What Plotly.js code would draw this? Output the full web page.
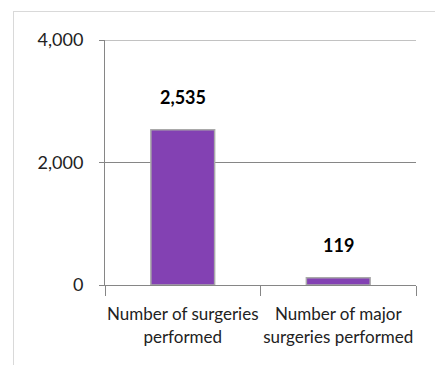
<!DOCTYPE html>
<html><head><meta charset="utf-8">
<script src="https://cdn.plot.ly/plotly-3.0.1.min.js"></script>
<style>
html,body{margin:0;padding:0;background:#fff;overflow:hidden;}
#frame{position:absolute;left:13px;top:11px;width:500px;height:500px;border:1px solid #d9d9d9;box-sizing:border-box;}
#chart{position:absolute;left:0;top:0;width:435px;height:365px;}
</style></head>
<body>
<div id="frame"></div>
<div id="chart"></div>
<script>
const categories = ["Number of surgeries<br>performed", "Number of major<br>surgeries performed"];
const values = [2535, 119];
const valueLabels = ["2,535", "119"];
const yTicks = [0, 2000, 4000];
const yTickLabels = ["0", "2,000", "4,000"];

const font = "Lato, 'Open Sans', sans-serif";
const trace = {
  type: "bar",
  x: categories,
  y: values,
  marker: {color: "#8341b3", line: {color: "#a9a9a9", width: 1.5}},
  hoverinfo: "none"
};
const annotations = categories.map((c, i) => ({
  x: c, y: values[i], xref: "x", yref: "y",
  text: "<b>" + valueLabels[i] + "</b>",
  showarrow: false, yshift: 33,
  font: {family: font, size: 18, color: "#000"}
}));
const layout = {
  width: 435, height: 365,
  margin: {l: 105, r: 19, t: 40, b: 80},
  paper_bgcolor: "rgba(0,0,0,0)",
  plot_bgcolor: "rgba(0,0,0,0)",
  bargap: 0.59,
  showlegend: false,
  font: {family: font, size: 17, color: "#222"},
  xaxis: {
    showline: true, linecolor: "#868686", linewidth: 1,
    ticks: "outside", tickson: "boundaries", ticklen: 10, tickcolor: "#868686",
    showgrid: false, zeroline: false,
    tickangle: 0,
    ticklabelstandoff: 14,
    tickfont: {family: font, size: 17, color: "#222"}
  },
  yaxis: {
    range: [0, 4000], tickvals: yTicks, ticktext: yTickLabels,
    showline: true, linecolor: "#868686", linewidth: 1,
    ticks: "outside", ticklen: 5, tickcolor: "#868686",
    showgrid: true, gridcolor: "#868686", gridwidth: 1,
    zeroline: false,
    ticklabelstandoff: 12,
    tickfont: {family: font, size: 18, color: "#222"}
  },
  shapes: [{type: "line", xref: "paper", x0: 0, x1: 1, yref: "y", y0: yTicks[yTicks.length - 1], y1: yTicks[yTicks.length - 1],
            line: {color: "#868686", width: 1}}],
  annotations: annotations
};
Plotly.newPlot("chart", [trace], layout, {displayModeBar: false, staticPlot: true});
</script>
</body></html>
